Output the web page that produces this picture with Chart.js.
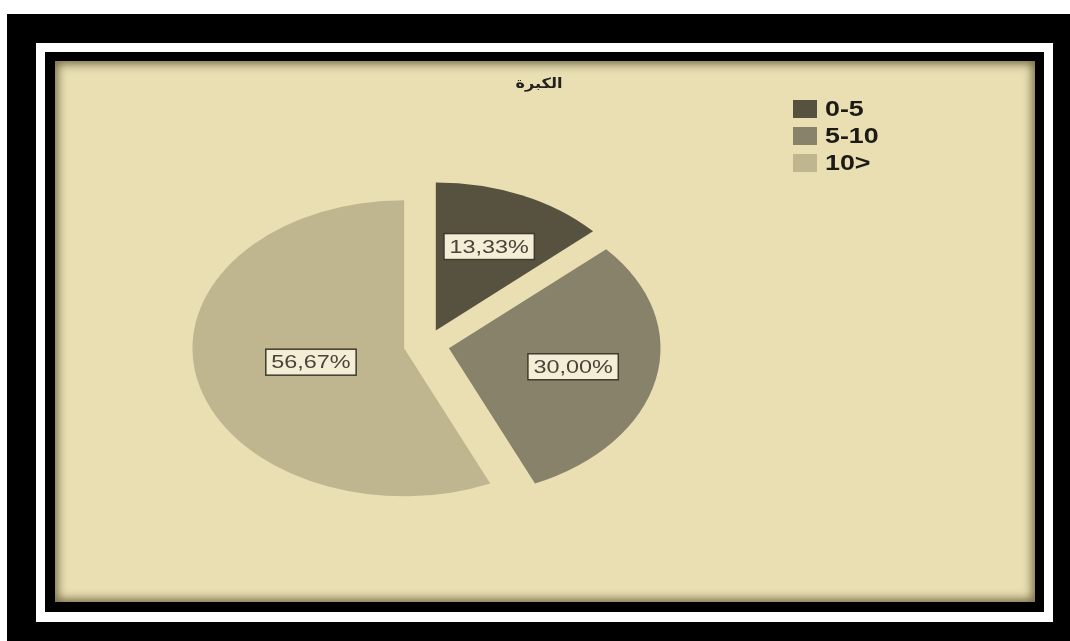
<!DOCTYPE html>
<html lang="ar">
<head>
<meta charset="UTF-8">
<title>الكبرة</title>
<script src="https://cdn.jsdelivr.net/npm/chart.js@4.4.0/dist/chart.umd.min.js"></script>
<style>
    body { margin: 0; background: #fff; width: 1070px; height: 641px; position: relative; overflow: hidden; }
    .frame-outer { position: absolute; left: 7px; top: 14px; width: 1063px; height: 627px; background: #000; }
    .frame-white { position: absolute; left: 36px; top: 43px; width: 1017px; height: 579px; background: #fff; }
    .frame-inner { position: absolute; left: 45px; top: 52px; width: 999px; height: 560px; background: #000; }
    .panel { position: absolute; left: 55px; top: 61px; width: 980px; height: 541px; background: #e9dfb3;
             box-shadow: inset 0 0 10px 3px rgba(70, 60, 25, 0.7); }
    #pieChart { position: absolute; left: 55px; top: 61px; }
</style>
</head>
<body>
<div class="frame-outer"></div>
<div class="frame-white"></div>
<div class="frame-inner"></div>
<div class="panel"></div>
<canvas id="pieChart" width="980" height="541"></canvas>

<script>
// data
const chartTitle = 'الكبرة';
const categories = ['0-5', '5-10', '10>'];
const percentages = [13.33, 30.00, 56.67];

const sliceColors = ['#57523f', '#88826a', '#bfb690'];
const STRETCH = 1.43;   // the original pie is squashed into an ellipse
const SLICE_GAP = 16;   // how far every slice is pulled out
const labelDist = [0.62, 0.6, 0.45];

// draw the arcs stretched sideways, each one pulled out by the same gap
const explodedEllipse = {
    id: 'explodedEllipse',
    beforeDatasetsDraw(chart) {
        const meta = chart.getDatasetMeta(0);
        const a = meta.data[0];
        const ctx = chart.ctx;
        ctx.save();
        ctx.translate(a.x, a.y);
        ctx.scale(STRETCH, 1);
        ctx.translate(-a.x, -a.y);
        meta.data.forEach(arc => {
            const mid = (arc.startAngle + arc.endAngle) / 2;
            ctx.save();
            ctx.translate(Math.cos(mid) * SLICE_GAP, Math.sin(mid) * SLICE_GAP);
            arc.draw(ctx);
            ctx.restore();
        });
        ctx.restore();
        return false;
    }
};

function stretchedText(ctx, text, x, y, sx) {
    ctx.save();
    ctx.translate(x, y);
    ctx.scale(sx, 1);
    ctx.fillText(text, 0, 0);
    ctx.restore();
}

const decorations = {
    id: 'decorations',
    afterDraw(chart) {
        const ctx = chart.ctx;
        const meta = chart.getDatasetMeta(0);

        // percentage boxes
        meta.data.forEach((arc, i) => {
            const p = arc.getProps(['x', 'y', 'startAngle', 'endAngle', 'outerRadius']);
            const mid = (p.startAngle + p.endAngle) / 2;
            const r = SLICE_GAP + p.outerRadius * labelDist[i];
            const lx = p.x + Math.cos(mid) * r * STRETCH;
            const ly = p.y + Math.sin(mid) * r;
            const txt = percentages[i].toFixed(2).replace('.', ',') + '%';
            ctx.font = '18px "Liberation Sans", Arial, sans-serif';
            const w = ctx.measureText(txt).width * 1.3;
            const bw = w + 11, bh = 26;
            ctx.fillStyle = '#f3eed5';
            ctx.fillRect(lx - bw / 2, ly - bh / 2, bw, bh);
            ctx.strokeStyle = '#3f3b2d';
            ctx.lineWidth = 1.5;
            ctx.strokeRect(lx - bw / 2, ly - bh / 2, bw, bh);
            ctx.fillStyle = '#48443a';
            ctx.textAlign = 'center';
            ctx.textBaseline = 'middle';
            stretchedText(ctx, txt, lx, ly + 1, 1.3);
        });

        // title
        ctx.fillStyle = '#222';
        ctx.font = 'bold 14px "DejaVu Sans", sans-serif';
        ctx.textAlign = 'center';
        ctx.textBaseline = 'middle';
        stretchedText(ctx, chartTitle, 484, 23, 1.15);

        // legend
        categories.forEach((c, i) => {
            const cy = 48 + i * 27;
            ctx.fillStyle = sliceColors[i];
            ctx.fillRect(738, cy - 9, 24, 18);
            ctx.fillStyle = '#1c1a14';
            ctx.font = 'bold 22px "Liberation Sans", Arial, sans-serif';
            ctx.textAlign = 'left';
            ctx.textBaseline = 'middle';
            stretchedText(ctx, c, 770, cy + 1, 1.22);
        });
    }
};

const ctx = document.getElementById('pieChart').getContext('2d');
new Chart(ctx, {
    type: 'pie',
    data: {
        labels: categories,
        datasets: [{
            data: percentages,
            backgroundColor: sliceColors,
            borderWidth: 0,
            radius: 148,
            clip: false
        }]
    },
    options: {
        responsive: false,
        animation: false,
        layout: { padding: { left: 221.5, right: 458.5, top: 134, bottom: 107 } },
        plugins: {
            legend: { display: false },
            title: { display: false },
            tooltip: { enabled: false }
        }
    },
    plugins: [explodedEllipse, decorations]
});
</script>
</body>
</html>
